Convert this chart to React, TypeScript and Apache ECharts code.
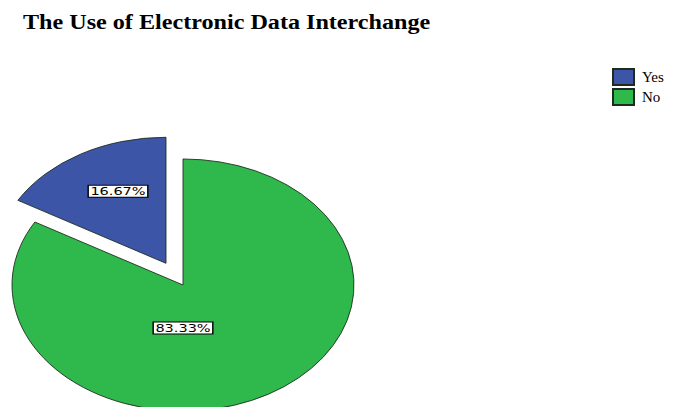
import React, { useEffect, useRef } from 'react';
import * as echarts from 'echarts';

const categories = ['Yes', 'No'];
const values = [16.67, 83.33];
const percentLabels = ['16.67%', '83.33%'];

const colors = ['#3d55a6', '#2fb84b'];
const CX = 183;
const CY = 285;
const R = 171;
const SY = 0.737;
const EXPLODE = [34, 0];
const LABEL_OFFSETS = [
  [-48, -72],
  [0, 43],
];

const total = values.reduce((a, b) => a + b, 0);

function sliceAngles(i: number) {
  let before = 0;
  for (let k = 0; k < i; k++) before += values[k];
  const after = before + values[i];
  const start = -Math.PI / 2 - (2 * Math.PI * after) / total;
  const end = -Math.PI / 2 - (2 * Math.PI * before) / total;
  return { start, end };
}

export default function App() {
  const ref = useRef<HTMLDivElement>(null);
  useEffect(() => {
    if (!ref.current) return;
    const chart = echarts.init(ref.current, undefined, { renderer: 'svg' });
    const series = categories.map((name, i) => ({
      type: 'custom',
      name,
      coordinateSystem: 'none',
      data: [values[i]],
      itemStyle: { color: colors[i], borderColor: '#1e2a1e', borderWidth: 1 },
      renderItem: () => {
        const { start, end } = sliceAngles(i);
        const mid = (start + end) / 2;
        const dx = Math.cos(mid) * EXPLODE[i];
        const dy = Math.sin(mid) * EXPLODE[i] * SY;
        return {
          type: 'group',
          x: CX + dx,
          y: CY + dy,
          children: [
            {
              type: 'sector',
              scaleY: SY,
              shape: { cx: 0, cy: 0, r: R, r0: 0, startAngle: start, endAngle: end, clockwise: true },
              style: { fill: colors[i], stroke: '#1e2a1e', lineWidth: 1, strokeNoScale: true },
            },
            {
              type: 'text',
              x: LABEL_OFFSETS[i][0],
              y: LABEL_OFFSETS[i][1],
              scaleX: 1.45,
              style: {
                text: percentLabels[i],
                fill: '#000',
                font: '10px "DejaVu Sans", sans-serif',
                align: 'center',
                verticalAlign: 'middle',
                backgroundColor: '#fff',
                borderColor: '#000',
                borderWidth: 1,
                padding: [1, 1, 0, 1],
              },
            },
          ],
        };
      },
    }));
    chart.setOption({
      animation: false,
      backgroundColor: '#fff',
      graphic: [
        {
          type: 'text',
          x: 23,
          y: 12,
          scaleX: 1.15,
          style: {
            text: 'The Use of Electronic Data Interchange',
            fill: '#000',
            font: 'bold 21px "Liberation Serif", "Times New Roman", serif',
          },
        },
      ],
      legend: {
        orient: 'vertical',
        left: 607,
        top: 63,
        itemWidth: 21,
        itemHeight: 16,
        itemGap: 2,
        icon: 'rect',
        data: categories,
        textStyle: {
          fontFamily: '"Liberation Serif", "Times New Roman", serif',
          fontSize: 15,
          color: '#000',
          padding: [0, 0, 0, 3],
        },
      },
      series,
    });
    return () => chart.dispose();
  }, []);
  return (
    <div
      ref={ref}
      style={{ position: 'fixed', left: 0, top: 0, width: 679, height: 407 }}
    />
  );
}
